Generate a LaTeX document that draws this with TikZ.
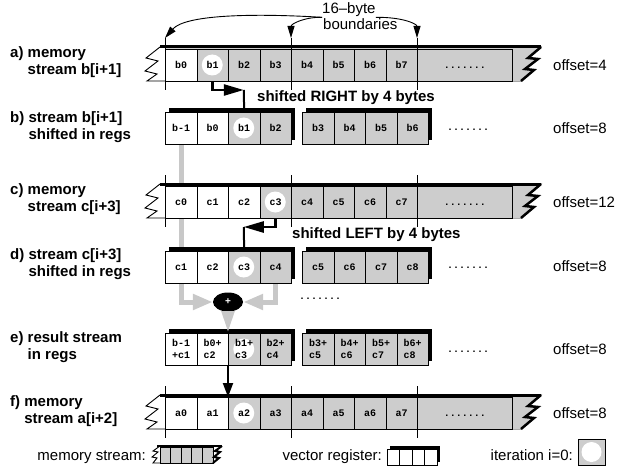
\documentclass[tikz,border=0pt]{standalone}
\usepackage{fontspec}
\setmainfont{Liberation Sans}
\newfontfamily\cellfam{Liberation Mono}
\usetikzlibrary{positioning,arrows.meta,shapes.geometric,backgrounds}
\definecolor{cellgray}{RGB}{205,205,205}
\definecolor{flowgray}{RGB}{200,200,200}

\begin{document}
\begin{tikzpicture}[x=1pt, y=-1pt, line join=miter,
                    bar/.style={line width=3pt},
                    bolt/.style={line width=2.5pt}]
    \tikzstyle{cell}=[rectangle, draw=black, line width=0.9pt, minimum width=31.5pt, minimum height=32pt, inner sep=0pt, anchor=north west, align=left, text height=6pt, text depth=0pt, font=\cellfam\bfseries\fontsize{10}{12}\selectfont]
    \tikzstyle{sumcell}=[cell, text height=18pt]
    \tikzstyle{rowlabel}=[anchor=west, align=left, inner sep=0pt, font=\bfseries\fontsize{15}{17}\selectfont]
    \tikzstyle{txt}=[inner sep=0pt, font=\fontsize{15}{16}\selectfont]
    \tikzstyle{shifttxt}=[inner sep=0pt, anchor=base west, font=\bfseries\fontsize{15}{16}\selectfont]
    \tikzstyle{dots}=[inner sep=0pt, font=\cellfam\bfseries\fontsize{10}{12}\selectfont]
    \tikzstyle{shifted}=[line width=2.5pt, -{Triangle[length=20pt, width=11pt]}]
    \tikzstyle{flow}=[flowgray, line width=5pt, -{Triangle[length=20pt, width=15pt]}]
    \tikzstyle{connect}=[line width=0.9pt, -{Triangle[length=12pt, width=7pt]}]

    \useasboundingbox (0,0) rectangle (631,468);

    % memory streams: row / top / white cells before the marked one
    \foreach \r/\y/\k in {a/49/1, c/186/3, f/397/2} {
      \filldraw[fill=white, line width=0.9pt] (160,\y-2) -- (146,\y+9) -- (158,\y+12) -- (145,\y+22) -- (157,\y+25) -- (147,\y+32) -- (521,\y+32) -- (534,\y+21) -- (525,\y+20) -- (538,\y+10) -- (528,\y+9) -- (541,\y-2) -- cycle;
      \fill[cellgray] (165,\y-2) -- (541,\y-2) -- (528,\y+9) -- (538,\y+10) -- (525,\y+20) -- (534,\y+21) -- (521,\y+32) -- (165,\y+32) -- cycle;
      \fill[white] (165,\y) rectangle ({165+31.5*\k},\y+32);
      \fill[white] ({180.75+31.5*\k},\y+16) circle (10.5);
      \foreach \x [count=\j from 0] in {165,291,417} {
        \coordinate (\r top\j) at (\x,\y-11);
        \draw[line width=0.9pt] (\r top\j) -- (\x,\y+41);
      }
      \draw[bar] (160,\y-2) -- (541,\y-2);
      \draw[bolt] (541,\y-2) -- (528,\y+9) -- (538,\y+10) -- (525,\y+20) -- (534,\y+21) -- (521,\y+32);
    }

    % registers
    \foreach \r/\y in {b/112, d/251, e/333} {
      \fill (169,\y-4) rectangle (295,\y+28);
      \fill (306,\y-4) rectangle (432,\y+28);
      \fill[cellgray] (228,\y) rectangle (291,\y+32);
      \fill[cellgray] (302,\y) rectangle (428,\y+32);
      \fill[white] (165,\y) rectangle (228,\y+32);
      \fill[white] (243.75,\y+16) circle (10.5);
    }

    \foreach \t [count=\i from 0] in {b0,b1,b2,b3,b4,b5,b6,b7}
      \node[cell] (a\i) at ({165+31.5*\i},49) {\t};
    \foreach \t [count=\i from 0] in {b-1,b0,b1,b2,b3,b4,b5,b6}
      \node[cell] (b\i) at ({165+31.5*\i+11*(\i>3)},112) {\t};
    \foreach \t [count=\i from 0] in {c0,c1,c2,c3,c4,c5,c6,c7}
      \node[cell] (c\i) at ({165+31.5*\i},186) {\t};
    \foreach \t [count=\i from 0] in {c1,c2,c3,c4,c5,c6,c7,c8}
      \node[cell] (d\i) at ({165+31.5*\i+11*(\i>3)},251) {\t};
    \foreach \t [count=\i from 0] in {b-1\\+c1,b0+\\c2,b1+\\c3,b2+\\c4,b3+\\c5,b4+\\c6,b5+\\c7,b6+\\c8}
      \node[sumcell] (e\i) at ({165+31.5*\i+11*(\i>3)},333) {\t};
    \foreach \t [count=\i from 0] in {a0,a1,a2,a3,a4,a5,a6,a7}
      \node[cell] (f\i) at ({165+31.5*\i},397) {\t};
    \node[cell, minimum width=95pt] (a8) at (417,49) {.......};
    \node[cell, minimum width=95pt] (c8) at (417,186) {.......};
    \node[cell, minimum width=95pt] (f8) at (417,397) {.......};

    \node[dots] (bdots) at (468,130) {.......};
    \node[dots] (ddots) at (468,268) {.......};
    \node[dots] (edots) at (468,352) {.......};
    \node[dots] (pdots) at (320,299) {.......};

    % row labels and offsets
    \node[rowlabel] (alab) at (10,62) {a) memory\\\phantom{a) }stream b[i+1]};
    \node[rowlabel] (blab) at (10,127) {b) stream b[i+1]\\\phantom{b) }shifted in regs};
    \node[rowlabel] (clab) at (10,199) {c) memory\\\phantom{c) }stream c[i+3]};
    \node[rowlabel] (dlab) at (10,264) {d) stream c[i+3]\\\phantom{d) }shifted in regs};
    \node[rowlabel] (elab) at (10,347) {e) result stream\\\phantom{e) }in regs};
    \node[rowlabel] (flab) at (10,411) {f) memory\\\phantom{f) }stream a[i+2]};
    \node[txt, anchor=west] (aoff) at (553,65) {offset=4};
    \node[txt, anchor=west] (boff) at (553,128) {offset=8};
    \node[txt, anchor=west] (coff) at (553,202) {offset=12};
    \node[txt, anchor=west] (doff) at (553,266) {offset=8};
    \node[txt, anchor=west] (eoff) at (553,349) {offset=8};
    \node[txt, anchor=west] (foff) at (553,413) {offset=8};

    % 16-byte boundaries
    \node[txt, anchor=base west] (b16) at (322,14) {16–byte};
    \node[txt, anchor=base west] (bnds) at (323,30) {boundaries};
    \draw[connect] (b16.south west) .. controls (250,13) and (185,15) .. (atop0);
    \draw[connect] (b16.south west) .. controls (304,17) and (291,24) .. (atop1);
    \draw[connect] (b16.south east) .. controls (403,17) and (417,24) .. (atop2);

    % shifts
    \coordinate (rsh) at (243.75,90);
    \draw[shifted] (a1.south) |- (rsh);
    \draw[line width=2pt] (rsh) -- (b2.north);
    \node[shifttxt] (rtxt) at (257,102) {shifted RIGHT by 4 bytes};
    \coordinate (lsh) at (243.75,227);
    \draw[shifted] (c3.south) |- (lsh);
    \draw[line width=2pt] (lsh) -- (d2.north);
    \node[shifttxt] (ltxt) at (292,238) {shifted LEFT by 4 bytes};

    % add and store
    \node[ellipse, fill=black, text=white, minimum width=30pt, minimum height=19pt, inner sep=0pt, font=\bfseries\fontsize{10}{10}\selectfont] (plus) at (228,302) {+};
    \begin{scope}[on background layer]
      \draw[flow] (b0.south) |- (plus.west);
      \draw[flow] (d3.south) |- (plus.east);
    \end{scope}
    \draw[flow, -{Triangle[length=22pt, width=12pt]}] (plus.south) -- (e2.north west);
    \draw[line width=2pt, -{Triangle[length=14pt, width=10pt]}] (e2.south west) -- (f2.north west);

    % legend
    \node[txt, anchor=base east] (lmem) at (146,460) {memory stream:};
    \fill[cellgray] (160,447) rectangle (213,463);
    \draw[line width=0.9pt] (160,447) rectangle (213,463);
    \foreach \x in {1,...,4}
      \draw[line width=0.9pt] ({160+10.6*\x},447) -- ({160+10.6*\x},463);
    \draw[line width=0.9pt] (160,446) -- (153,451) -- (158,452) -- (152,457) -- (157,458) -- (153,463) -- (160,463);
    \draw[line width=2pt] (157,446) -- (222,446);
    \draw[line width=2pt] (222,446) -- (215,451) -- (220,452) -- (214,457) -- (219,458) -- (213,463);
    \node[txt, anchor=base east] (lreg) at (382,460) {vector register:};
    \fill (390,446) rectangle (440,462);
    \filldraw[fill=white, line width=0.9pt] (387,449) rectangle (437,465);
    \foreach \x in {1,...,3}
      \draw[line width=0.9pt] ({387+12.5*\x},449) -- ({387+12.5*\x},465);
    \node[txt, anchor=base east] (liter) at (573,460) {iteration i=0:};
    \filldraw[fill=cellgray, line width=0.9pt] (578,439) rectangle (605,465);
    \fill[white] (591.5,452) circle (10);
\end{tikzpicture}
\end{document}
